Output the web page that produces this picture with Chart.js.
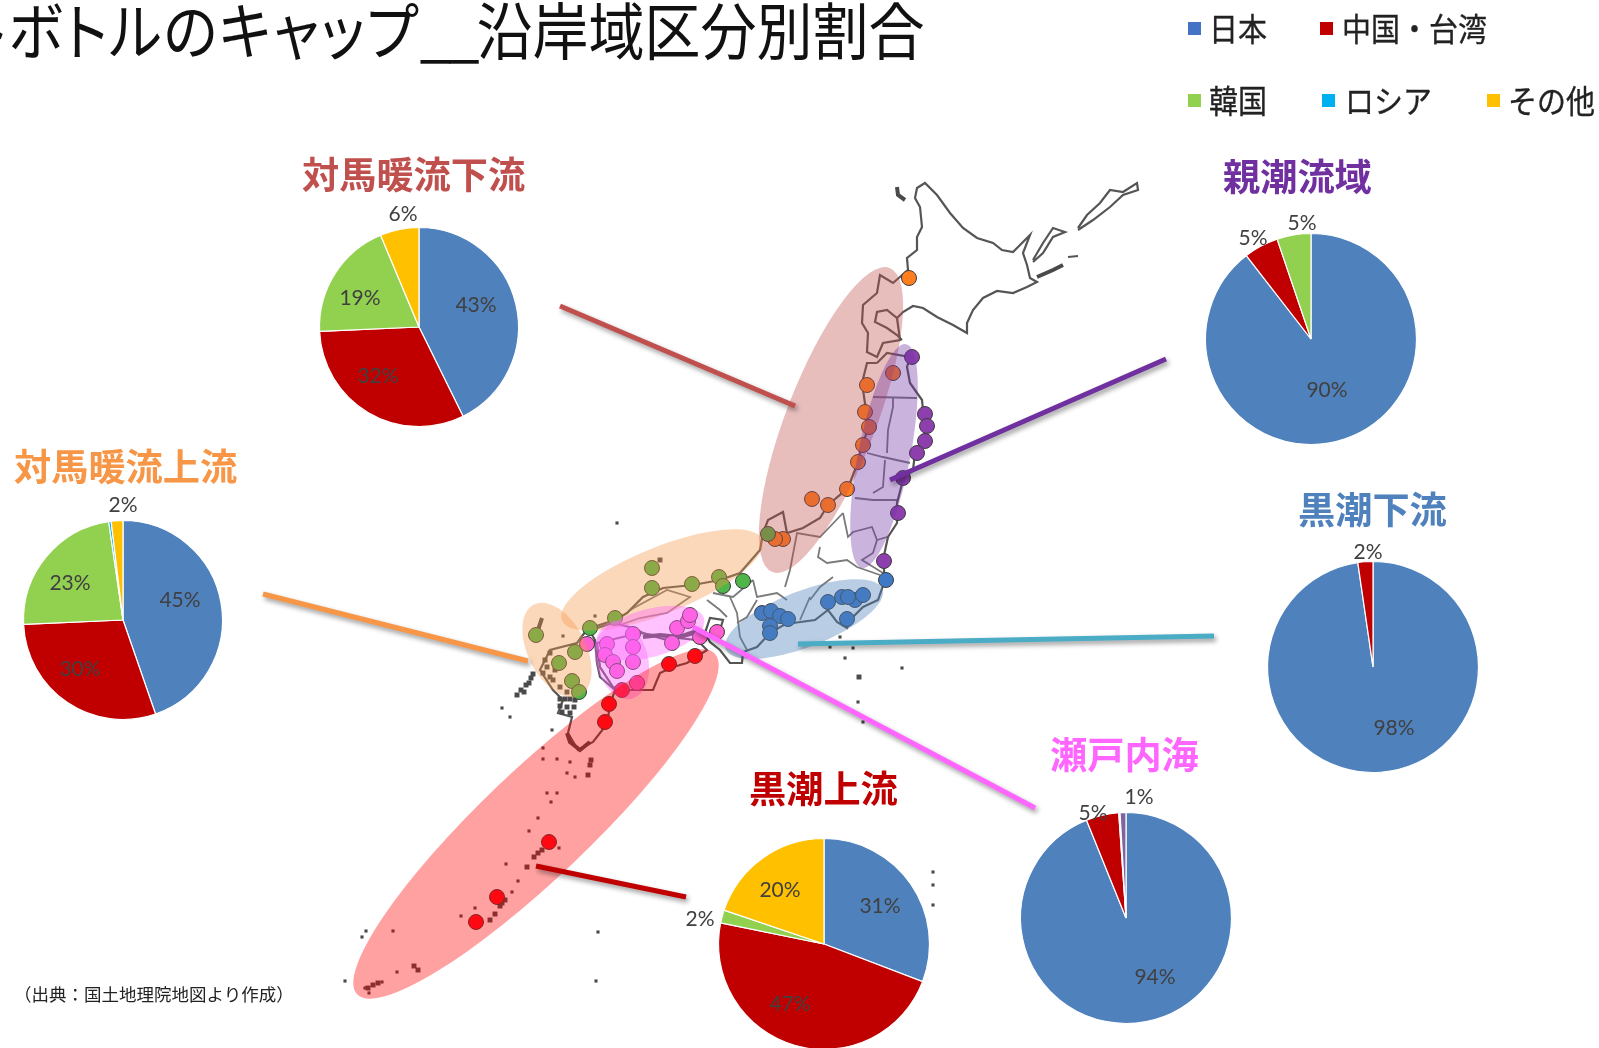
<!DOCTYPE html>
<html lang="ja">
<head>
<meta charset="utf-8">
<title>ペットボトルのキャップ 沿岸域区分別割合</title>
<script src="https://cdn.jsdelivr.net/npm/chart.js@4"></script>
<style>
  html, body { margin: 0; padding: 0; background: #fff; overflow: hidden; }
  body { position: relative; width: 1599px; height: 1048px; font-family: "Noto Sans CJK JP", sans-serif; }
  canvas { position: absolute; }
  #mapChart { filter: blur(0.5px); }
  .txt { position: absolute; white-space: nowrap; line-height: 1; }
  .title { left: -141px; top: -3px; font-size: 56px; color: #111; font-feature-settings: "palt"; transform: scaleY(1.11); transform-origin: top left; }
  .title .kana { letter-spacing: 1.75px; }
  .title .bar { letter-spacing: -3px; }
  .region { font-size: 37.2px; font-weight: 700; }
  .legend-text { font-size: 29px; color: #222; -webkit-text-stroke: 0.3px #222; transform: scaleY(1.1); }
  .legend-box { position: absolute; width: 13px; height: 13px; }
  .source { left: 14px; top: 985px; font-size: 17.5px; color: #222; }
</style>
</head>
<body>
<canvas id="mapChart" width="1599" height="1048" style="left:0;top:0"></canvas>
<div id="overlay"></div>
<script>
// 区分とパイの値 (%)
const categories = ['日本', '中国・台湾', '韓国', 'ロシア', 'その他'];
const categoryColors = ['#4f81bd', '#c00000', '#92d050', '#00b0f0', '#ffc000'];
const legendColors = ['#4472c4', '#c00000', '#92d050', '#00b0f0', '#ffc000'];

const tsushimaLowerValues = [42.7, 31.6, 19.4, 0, 6.3];
const tsushimaUpperValues = [44.7, 29.6, 23.4, 0.4, 1.9];
const oyashioValues = [89.5, 5.3, 5.2, 0, 0];
const kuroshioLowerValues = [97.7, 2.3, 0, 0, 0];
const setoValues = [93.9, 5, 0.2, 0, 0.9];
const kuroshioUpperValues = [30.8, 47.4, 2, 0, 19.8];

// 地図上の調査地点 (画面座標の単位)
const orangeSites = [[909,278],[867,385],[893,373],[865,412],[869,427],[863,445],[858,462],[847,489],[828,505],[812,499],[783,539],[775,539]];
const purpleSites = [[912,357],[925,414],[927,426],[925,441],[917,453],[903,478],[898,513],[884,561]];
const blueSites = [[886,580],[828,602],[842,597],[855,600],[863,595],[848,597],[847,619],[762,613],[771,611],[780,616],[788,619],[770,626],[770,633]];
const greenSites = [[652,568],[652,588],[615,618],[590,628],[692,584],[719,577],[723,586],[743,581],[768,534],[536,635],[575,652],[559,663],[572,681],[579,692]];
const pinkSites = [[587,644],[607,644],[633,634],[633,647],[605,655],[633,662],[613,662],[617,671],[637,683],[672,643],[677,628],[688,621],[690,615],[700,637],[717,632]];
const redSites = [[695,656],[669,664],[622,690],[609,704],[605,722],[549,842],[497,897],[476,922]];

// 海岸線
const hokkaidoCoast = [[908,270],[907,258],[917,250],[917,237],[922,227],[920,207],[915,198],[917,188],[925,183],[937,195],[950,213],[963,228],[977,238],[993,243],[1002,250],[1013,252],[1023,242],[1030,235],[1023,253],[1027,265],[1030,278],[1037,282],[1027,287],[1013,293],[997,291],[983,298],[973,310],[967,323],[967,333],[953,325],[937,317],[923,308],[913,306],[903,312],[897,318],[887,310],[877,312],[875,322],[887,328],[897,335],[902,340]];
const oshimaCoast = [[908,270],[893,283],[880,275],[877,293],[863,305],[862,323],[868,333],[867,352],[877,357],[883,343],[900,340],[897,318]];
const kurileA = [[1078,228],[1087,215],[1100,203],[1110,190],[1123,192],[1137,183],[1138,190],[1123,195],[1110,207],[1093,220],[1078,230]];
const kurileB = [[1033,260],[1043,243],[1053,228],[1065,232],[1053,237],[1043,253],[1033,262]];
const kurileD = [[1068,257],[1078,256]];
const honshuEast = [[877,363],[887,353],[910,357],[907,367],[910,383],[922,400],[923,410],[927,427],[923,440],[915,453],[913,470],[903,480],[897,503],[897,523],[888,537],[883,560],[885,580],[878,600],[863,607],[853,617],[847,628],[837,622],[828,610],[815,620],[793,623],[787,623],[770,633],[757,647],[743,652],[742,663],[730,663],[720,650],[710,642],[705,633],[710,618],[723,620],[720,630]];
const honshuWest = [[877,363],[867,363],[862,383],[866,410],[869,427],[862,445],[858,462],[848,488],[828,505],[820,518],[803,528],[787,533],[783,512],[768,520],[763,533],[760,550],[740,573],[720,580],[693,585],[663,588],[643,597],[627,613],[615,620],[590,628]];
const sanyoCoast = [[705,633],[697,630],[667,640],[643,633],[633,628],[613,623],[597,628]];
const kyushuCoast = [[588,628],[577,643],[550,650],[540,670],[553,690],[563,700],[558,713],[572,717],[568,733],[578,750],[593,742],[607,724],[610,705],[615,690],[600,677],[597,663],[595,640],[588,628]];
const shikokuCoast = [[640,633],[667,637],[697,640],[707,650],[687,663],[673,667],[660,673],[653,690],[640,690],[623,690],[613,687],[600,667],[597,643],[640,633]];
const coastLines = [hokkaidoCoast, oshimaCoast, kurileA, kurileB, kurileD, honshuEast, honshuWest, sanyoCoast, kyushuCoast, shikokuCoast];

// 県境
const borderLines = [
  [[873,397],[917,398]],
  [[893,397],[893,407],[888,430],[887,453]],
  [[867,453],[883,457],[910,463]],
  [[885,460],[883,487],[873,493]],
  [[855,498],[873,500],[897,500]],
  [[843,513],[848,537],[853,532],[872,527],[877,540],[887,537]],
  [[877,540],[873,553],[862,560],[883,573]],
  [[820,547],[818,557],[827,563],[847,560],[857,567],[880,575]],
  [[843,513],[820,537],[797,533],[790,570],[785,587]],
  [[753,580],[757,597],[777,593],[787,600]],
  [[810,600],[820,587],[833,577]],
  [[730,597],[737,613],[740,637],[747,650]],
  [[757,600],[747,617],[737,623]],
  [[800,620],[810,597]],
  [[713,593],[733,597],[753,580]],
  [[707,600],[720,610],[727,617]],
  [[630,610],[667,590],[690,597],[667,613],[640,618],[620,625]]
];

// 濃く見える短い海岸
const denseLines = [
  [[643,637],[660,635],[680,637],[697,632]],
  [[542,618],[537,633]],
  [[897,187],[898,195],[905,200]],
  [[1037,277],[1053,270],[1063,265]],
  [[567,733],[570,742],[580,750],[590,742]]
];
const smallIslands = [[502,708],[510,717],[552,730],[543,748],[543,759],[557,759],[570,762],[575,777],[567,773],[557,793],[547,793],[551,802],[538,818],[529,831],[559,848],[506,864],[518,881],[512,892],[461,916],[475,908],[393,931],[362,937],[366,931],[345,981],[382,982],[365,988],[369,993],[397,972],[598,932],[596,981],[617,523],[595,616],[563,636],[840,637],[830,647],[853,648],[845,658],[858,702],[863,722],[933,872],[933,885],[933,905],[902,668]];
const largeIslands = [[588,775],[590,765],[591,760],[538,853],[534,857],[542,850],[527,867],[502,903],[505,900],[500,906],[495,914],[490,920],[373,985],[378,983],[368,988],[414,966],[418,970],[859,677],[660,560],
  [517,695],[521,690],[526,685],[531,678],[533,674],[524,692],[529,683],
  [560,699],[565,699],[570,699],[575,700],[560,706],[567,707],[574,707],[562,712],[570,713],
  [550,653],[547,667],[543,673],[553,680],[560,687],[550,677],[567,692],[545,660],[555,670],[575,690]];

// 引き出し線
const leaderLines = [
  { color: '#c0504d', points: [[560,306],[795,406]] },
  { color: '#7030a0', points: [[890,480],[1166,359]] },
  { color: '#f79646', points: [[263,594],[528,661]] },
  { color: '#4bacc6', points: [[798,644],[1214,636]] },
  { color: '#ff66ff', points: [[693,627],[1035,808]] },
  { color: '#c00000', points: [[536,866],[686,897]] }
];

// 海域の楕円 [中心x, 中心y, 長半径, 短半径, 角度, 色]
const seaAreas = [
  [831, 420, 163, 45, -68.9, 'rgba(192,80,77,0.37)'],
  [884, 456, 114, 26, -78.8, 'rgba(112,48,160,0.37)'],
  [804, 619, 84, 28, -21, 'rgba(79,129,189,0.4)'],
  [662, 580, 108, 33, -22, 'rgba(247,150,70,0.37)'],
  [557, 650, 51, 29, 63, 'rgba(247,150,70,0.37)'],
  [650, 633, 56, 24, -15, 'rgba(255,102,255,0.4)'],
  [622, 660, 40, 26, 75, 'rgba(255,102,255,0.4)'],
  [536, 824, 247, 54, -43.6, 'rgba(255,0,0,0.37)']
];

// パイの配置とラベルの位置 (中心からのずれ)
const pies = [
  { values: tsushimaLowerValues, cx: 419, cy: 327, r: 99.5, labels: [[57,-22],[-41,49],[-59,-29],null,[-16,-113]] },
  { values: tsushimaUpperValues, cx: 123, cy: 620, r: 99.5, labels: [[57,-20],[-43,49],[-53,-37],null,[0,-115]] },
  { values: oyashioValues, cx: 1311, cy: 339, r: 105.5, labels: [[16,51],[-58,-101],[-9,-116],null,null] },
  { values: kuroshioLowerValues, cx: 1373, cy: 667, r: 105.5, labels: [[21,61],[-5,-115],null,null,null] },
  { values: setoValues, cx: 1126, cy: 918, r: 105.5, labels: [[29,59],[-33,-105],null,null,[13,-121]], sliver: '#8064a2' },
  { values: kuroshioUpperValues, cx: 824, cy: 944, r: 105.5, labels: [[56,-38],[-34,60],[-124,-25],null,[-44,-54]] }
];

const regionLabels = [
  { text: '対馬暖流下流', color: '#c0504d', left: 302, top: 155 },
  { text: '親潮流域', color: '#7030a0', left: 1223, top: 157 },
  { text: '対馬暖流上流', color: '#f79646', left: 14, top: 447 },
  { text: '黒潮下流', color: '#4f81bd', left: 1298, top: 490 },
  { text: '瀬戸内海', color: '#ff66ff', left: 1050, top: 735 },
  { text: '黒潮上流', color: '#c00000', left: 749, top: 769 }
];

const legendItems = [
  { name: 0, boxX: 1188, textX: 1209, y: 28 },
  { name: 1, boxX: 1320, textX: 1342, y: 28 },
  { name: 2, boxX: 1188, textX: 1209, y: 100 },
  { name: 3, boxX: 1322, textX: 1345, y: 100 },
  { name: 4, boxX: 1487, textX: 1508, y: 100 }
];

const toXY = pts => pts.map(p => ({ x: p[0], y: p[1] }));

function lineSet(pts, color, width) {
  return { type: 'line', data: toXY(pts), borderColor: color, borderWidth: width, pointRadius: 0, fill: false, tension: 0 };
}
function siteSet(pts, color) {
  return { type: 'scatter', data: toXY(pts), backgroundColor: color, borderColor: '#3c3c3c', borderWidth: 1, pointRadius: 7.5 };
}
function speckSet(pts, size) {
  return { type: 'scatter', data: toXY(pts), backgroundColor: '#4a4a4a', borderWidth: 0, pointStyle: 'rect', pointRadius: size };
}

// 先頭のデータセットほど上に描かれる
const datasets = [];
leaderLines.forEach(l => {
  const d = lineSet(l.points, l.color, 5);
  d.leader = true;
  datasets.push(d);
});
datasets.push(siteSet(redSites, '#ff0d1e'));
datasets.push(siteSet(pinkSites, '#ff5fd0'));
datasets.push(siteSet(greenSites, '#4fb548'));
datasets.push(siteSet(blueSites, '#3f78c4'));
datasets.push(siteSet(purpleSites, '#8e3fae'));
datasets.push(siteSet(orangeSites, '#ff7f1e'));
datasets.push(speckSet(largeIslands, 3.5));
datasets.push(speckSet(smallIslands, 2.2));
denseLines.forEach(l => datasets.push(lineSet(l, '#4a4a4a', 4)));
coastLines.forEach(l => datasets.push(lineSet(l, '#555555', 2.2)));
borderLines.forEach(l => datasets.push(lineSet(l, '#7a7a7a', 1.8)));

const seaAreaPlugin = {
  id: 'seaAreas',
  beforeDatasetDraw(chart, args) {
    const ctx = chart.ctx;
    const lastLeader = leaderLines.length - 1;
    if (args.index === lastLeader) {
      seaAreas.forEach(a => {
        ctx.save();
        ctx.fillStyle = a[5];
        ctx.beginPath();
        ctx.ellipse(chart.scales.x.getPixelForValue(a[0]), chart.scales.y.getPixelForValue(a[1]), a[2], a[3], a[4] * Math.PI / 180, 0, Math.PI * 2);
        ctx.fill();
        ctx.restore();
      });
    }
    if (chart.data.datasets[args.index].leader) {
      ctx.save();
      ctx.shadowColor = 'rgba(0,0,0,0.4)';
      ctx.shadowBlur = 5;
      ctx.shadowOffsetX = 2;
      ctx.shadowOffsetY = 3;
    }
  },
  afterDatasetDraw(chart, args) {
    if (chart.data.datasets[args.index].leader) chart.ctx.restore();
  }
};

new Chart(document.getElementById('mapChart'), {
  type: 'scatter',
  data: { datasets: datasets },
  plugins: [seaAreaPlugin],
  options: {
    responsive: false,
    animation: false,
    events: [],
    layout: { autoPadding: false },
    plugins: { legend: { display: false }, tooltip: { enabled: false } },
    scales: {
      x: { type: 'linear', min: 0, max: 1599, display: false },
      y: { type: 'linear', min: 0, max: 1048, reverse: true, display: false }
    }
  }
});

// パーセントのラベル
const pieLabelPlugin = {
  id: 'pieLabels',
  afterDraw(chart) {
    const ctx = chart.ctx;
    const opt = chart.options.plugins.pieLabels;
    const c = chart.canvas.width / 2;
    ctx.save();
    ctx.font = '21px Lato, sans-serif';
    ctx.fillStyle = '#404040';
    ctx.textAlign = 'center';
    ctx.textBaseline = 'middle';
    opt.labels.forEach((off, i) => {
      if (!off) return;
      const shown = opt.values[i] < 1 ? 1 : opt.values[i];
      ctx.fillText(Math.round(shown) + '%', c + off[0], c + off[1]);
    });
    ctx.restore();
  }
};

const overlay = document.getElementById('overlay');
pies.forEach(p => {
  const half = 150;
  const cv = document.createElement('canvas');
  cv.width = half * 2;
  cv.height = half * 2;
  cv.style.left = (p.cx - half) + 'px';
  cv.style.top = (p.cy - half) + 'px';
  overlay.appendChild(cv);
  const colors = categoryColors.slice();
  if (p.sliver) colors[4] = p.sliver;
  new Chart(cv, {
    type: 'pie',
    data: {
      labels: categories,
      datasets: [{ data: p.values, backgroundColor: colors, borderColor: '#fff', borderWidth: 1.2 }]
    },
    plugins: [pieLabelPlugin],
    options: {
      responsive: false,
      animation: false,
      events: [],
      radius: p.r,
      plugins: {
        legend: { display: false },
        tooltip: { enabled: false },
        pieLabels: { labels: p.labels, values: p.values }
      }
    }
  });
});

function addText(cls, text, left, top, color) {
  const el = document.createElement('div');
  el.className = 'txt ' + cls;
  el.textContent = text;
  if (left !== null) el.style.left = left + 'px';
  if (top !== null) el.style.top = top + 'px';
  if (color) el.style.color = color;
  overlay.appendChild(el);
  return el;
}

const titleEl = addText('title', '', null, null, null);
titleEl.innerHTML = '<span class="kana">ペットボトルのキャップ</span><span class="bar">__</span>沿岸域区分別割合';
addText('source', '（出典：国土地理院地図より作成）', null, null, null);
regionLabels.forEach(r => addText('region', r.text, r.left, r.top, r.color));
legendItems.forEach(it => {
  const box = document.createElement('div');
  box.className = 'legend-box';
  box.style.left = it.boxX + 'px';
  box.style.top = (it.y - 6) + 'px';
  box.style.background = legendColors[it.name];
  overlay.appendChild(box);
  addText('legend-text', categories[it.name], it.textX, it.y - 15, null);
});
</script>
</body>
</html>
